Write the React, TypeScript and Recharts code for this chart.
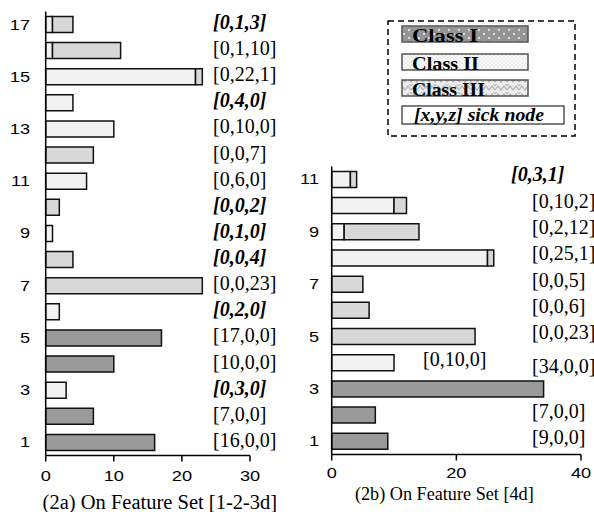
import React from 'react';
import { BarChart, Bar, XAxis, YAxis, LabelList, Legend } from 'recharts';

// ---------- data: (2a) feature set [1-2-3d] ----------
const leftRows = [1, 2, 3, 4, 5, 6, 7, 8, 9, 10, 11, 12, 13, 14, 15, 16, 17];
const leftClassI = [16, 7, 0, 10, 17, 0, 0, 0, 0, 0, 0, 0, 0, 0, 0, 0, 0];
const leftClassII = [0, 0, 3, 0, 0, 2, 0, 0, 1, 0, 6, 0, 10, 4, 22, 1, 1];
const leftClassIII = [0, 0, 0, 0, 0, 0, 23, 4, 0, 2, 0, 7, 0, 0, 1, 10, 3];
const leftSick = [false, false, true, false, false, true, false, true, true, true, false, false, false, true, false, false, true];
const leftTicks = [0, 10, 20, 30];

// ---------- data: (2b) feature set [4d] ----------
const rightRows = [1, 2, 3, 4, 5, 6, 7, 8, 9, 10, 11];
const rightClassI = [9, 7, 34, 0, 0, 0, 0, 0, 0, 0, 0];
const rightClassII = [0, 0, 0, 10, 0, 0, 0, 25, 2, 10, 3];
const rightClassIII = [0, 0, 0, 0, 23, 6, 5, 1, 12, 2, 1];
const rightSick = [false, false, false, false, false, false, false, false, false, false, true];
const rightTicks = [0, 20, 40];

const seriesNames = ['Class I', 'Class II', 'Class III'];
const sickLegendText = '[x,y,z] sick node';
const leftTitle = '(2a) On Feature Set [1-2-3d]';
const rightTitle = '(2b) On Feature Set [4d]';

// ---------- layout / style (not data) ----------
const SERIF = "'Liberation Serif', 'Times New Roman', Times, serif";
const SANS = "'Liberation Sans', Arial, sans-serif";
const FILL_I = '#9a9a9a';
const FILL_II = '#f2f2f2';
const FILL_III = '#d8d8d8';
const BAR_STROKE = '#111';

// label anchor (x in chart px, dy from row centre to baseline)
const leftLabelPos = (_row: number) => ({ x: 213, dy: 4.5 });
const rightLabelPos = (row: number) => {
  if (row === 11) return { x: 211, dy: 2 };
  if (row === 4) return { x: 123, dy: 3 };
  if (row === 3) return { x: 232, dy: -15.5 };
  return { x: 232, dy: 2.5 };
};

const buildTable = (rows: number[], a: number[], b: number[], c: number[]) =>
  rows.map((r, i) => ({ row: r, c1: a[i], c2: b[i], c3: c[i] })).reverse();

const leftData = buildTable(leftRows, leftClassI, leftClassII, leftClassIII);
const rightData = buildTable(rightRows, rightClassI, rightClassII, rightClassIII);

// Label is drawn by the last non-zero segment of each stacked row
const makeLabel =
  (
    seg: number,
    rows: number[],
    a: number[],
    b: number[],
    c: number[],
    sick: boolean[],
    pos: (r: number) => { x: number; dy: number }
  ) =>
  (props: any) => {
    const vb = props.viewBox || props;
    const row = Number(props.value);
    const i = rows.indexOf(row);
    if (i < 0) return null;
    const vals = [a[i], b[i], c[i]];
    let last = -1;
    vals.forEach((v, k) => {
      if (v > 0) last = k;
    });
    if (last !== seg) return null;
    const cy = Number(vb.y) + Number(vb.height) / 2;
    const p = pos(row);
    const s = sick[i];
    return (
      <text
        x={p.x}
        y={cy + p.dy}
        fontFamily={SERIF}
        fontSize={20}
        fontWeight={s ? 700 : 400}
        fontStyle={s ? 'italic' : 'normal'}
        fill="#000"
      >
        {`[${a[i]},${b[i]},${c[i]}]`}
      </text>
    );
  };

const makeTitle = (text: string, dx: number, dy: number, size: number) => (props: any) => {
  const vb = props.viewBox || {};
  return (
    <text x={vb.x + vb.width / 2 + dx} y={vb.y + dy} textAnchor="middle" fontFamily={SERIF} fontSize={size} fill="#000">
      {text}
    </text>
  );
};

const XTick = (props: any) => {
  const { x, y, payload } = props;
  return (
    <g transform={`translate(${x},${y})`}>
      <text transform="scale(1.3,1)" x={0} y={0} dy="0.71em" textAnchor="middle" fontFamily={SANS} fontSize={14} fill="#000">
        {payload.value}
      </text>
    </g>
  );
};

const YTick = (props: any) => {
  const { x, y, payload } = props;
  return (
    <g transform={`translate(${x},${y})`}>
      <text transform="scale(1.3,1)" x={0} y={0} dy="0.355em" textAnchor="end" fontFamily={SANS} fontSize={14} fill="#000">
        {payload.value}
      </text>
    </g>
  );
};

const LegendBox = () => {
  const boxes = [
    { y: 6, fill: 'url(#patI)', text: seriesNames[0], base: 21.5, len: 66 },
    { y: 34, fill: 'url(#patII)', text: seriesNames[1], base: 49.5, len: 67 },
    { y: 60, fill: 'url(#patIII)', text: seriesNames[2], base: 75.5, len: 73 },
  ];
  return (
    <svg width={190} height={118} style={{ display: 'block' }}>
      <defs>
        <pattern id="patI" width="10" height="8" patternUnits="userSpaceOnUse">
          <rect width="10" height="8" fill="#959595" />
          <circle cx="2" cy="2" r="0.9" fill="#fff" />
          <circle cx="7" cy="6" r="0.9" fill="#fff" />
        </pattern>
        <pattern id="patII" width="4" height="4" patternUnits="userSpaceOnUse">
          <rect width="4" height="4" fill="#fbfbfb" />
          <circle cx="1" cy="1" r="0.6" fill="#bdbdbd" />
          <circle cx="3" cy="3" r="0.6" fill="#bdbdbd" />
        </pattern>
        <pattern id="patIII" width="12" height="8" patternUnits="userSpaceOnUse">
          <rect width="12" height="8" fill="#ececec" />
          <path d="M0 6 L3 2 L6 6 L9 2 L12 6" stroke="#b0b0b0" strokeWidth="1.2" fill="none" />
          <path d="M0 2 L1.5 0 M10.5 0 L12 2" stroke="#b0b0b0" strokeWidth="1" fill="none" />
        </pattern>
      </defs>
      <rect x={1} y={1} width={187} height={115} fill="#fff" stroke="#000" strokeWidth={1.5} strokeDasharray="6 4" />
      {boxes.map((b) => (
        <g key={b.text}>
          <rect x={15} y={b.y} width={126} height={16} fill={b.fill} stroke="#555" strokeWidth={1.5} />
          <text
            x={25}
            y={b.base}
            fontFamily={SERIF}
            fontWeight={700}
            fontSize={19}
            fill="#000"
            textLength={b.len}
            lengthAdjust="spacingAndGlyphs"
          >
            {b.text}
          </text>
        </g>
      ))}
      <rect x={15} y={86} width={162} height={18} fill="#fff" stroke="#555" strokeWidth={1.5} />
      <text
        x={27}
        y={100.5}
        fontFamily={SERIF}
        fontWeight={700}
        fontStyle="italic"
        fontSize={19}
        fill="#000"
        textLength={130}
        lengthAdjust="spacingAndGlyphs"
      >
        {sickLegendText}
      </text>
    </svg>
  );
};

const renderBars = (
  rows: number[],
  a: number[],
  b: number[],
  c: number[],
  sick: boolean[],
  pos: (r: number) => { x: number; dy: number }
) =>
  [FILL_I, FILL_II, FILL_III].map((fill, k) => (
    <Bar
      key={k}
      dataKey={`c${k + 1}`}
      stackId="s"
      name={seriesNames[k]}
      fill={fill}
      stroke={BAR_STROKE}
      strokeWidth={1.5}
      isAnimationActive={false}
    >
      <LabelList dataKey="row" content={makeLabel(k, rows, a, b, c, sick, pos)} />
    </Bar>
  ));

export default function App() {
  return (
    <div style={{ position: 'absolute', left: 0, top: 0, width: 594, height: 512, background: '#fff', overflow: 'hidden' }}>
      <div style={{ position: 'absolute', left: 0, top: 0 }}>
        <BarChart
          width={300}
          height={512}
          data={leftData}
          layout="vertical"
          margin={{ top: 11.5, right: 50, bottom: 0, left: 0 }}
          barSize={16}
        >
          <XAxis
            type="number"
            domain={[0, 30]}
            ticks={leftTicks}
            height={56.5}
            axisLine={{ stroke: '#000', strokeWidth: 1.5 }}
            tickLine={{ stroke: '#000', strokeWidth: 1.5 }}
            tickSize={6}
            tickMargin={10}
            tick={<XTick />}
            label={{ content: makeTitle(leftTitle, 12, 53, 20.5) } as any}
          />
          <YAxis
            type="category"
            dataKey="row"
            width={45.7}
            interval={1}
            axisLine={{ stroke: '#000', strokeWidth: 1.5 }}
            tickLine={false}
            tickSize={0}
            tickMargin={15.7}
            tick={<YTick />}
          />
          {renderBars(leftRows, leftClassI, leftClassII, leftClassIII, leftSick, leftLabelPos)}
        </BarChart>
      </div>
      <div style={{ position: 'absolute', left: 300, top: 0 }}>
        <BarChart
          width={294}
          height={512}
          data={rightData}
          layout="vertical"
          margin={{ top: 166.4, right: 13, bottom: 0, left: 0 }}
          barSize={16}
        >
          <XAxis
            type="number"
            domain={[0, 40]}
            ticks={rightTicks}
            height={57.5}
            axisLine={{ stroke: '#000', strokeWidth: 1.5 }}
            tickLine={{ stroke: '#000', strokeWidth: 1.5 }}
            tickSize={6}
            tickMargin={8}
            tick={<XTick />}
            label={{ content: makeTitle(rightTitle, -12, 45, 18.2) } as any}
          />
          <YAxis
            type="category"
            dataKey="row"
            width={31.7}
            interval={1}
            axisLine={{ stroke: '#000', strokeWidth: 1.5 }}
            tickLine={false}
            tickSize={0}
            tickMargin={12.7}
            tick={<YTick />}
          />
          <Legend
            layout="vertical"
            align="center"
            verticalAlign="middle"
            content={() => <LegendBox />}
            wrapperStyle={{ position: 'absolute', left: 87, top: 20, width: 190, height: 118 }}
          />
          {renderBars(rightRows, rightClassI, rightClassII, rightClassIII, rightSick, rightLabelPos)}
        </BarChart>
      </div>
    </div>
  );
}
